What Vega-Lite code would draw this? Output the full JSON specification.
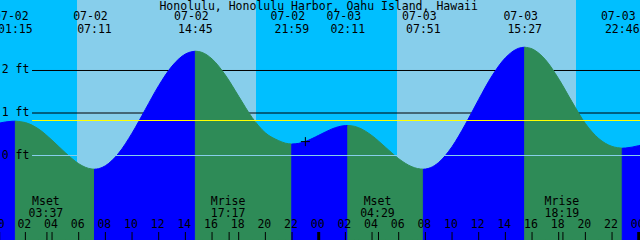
{
  "$schema": "https://vega.github.io/schema/vega-lite/v6.json",
  "width": 640,
  "height": 240,
  "autosize": {"type": "none"},
  "padding": 0,
  "background": "#00BFFF",
  "config": {"view": {"stroke": null}, "text": {"font": "DejaVu Sans Mono", "fontSize": 11.5, "color": "#000000"}},
  "datasets": {
    "sky": [
      {"start": -1, "end": 5.873, "kind": "night"},
      {"start": 5.873, "end": 19.3, "kind": "day"},
      {"start": 19.3, "end": 29.873, "kind": "night"},
      {"start": 29.873, "end": 43.3, "kind": "day"},
      {"start": 43.3, "end": 49, "kind": "night"}
    ],
    "tide": [
      {"h": 0, "v": 0.76, "seg": 1, "dir": "rising"},
      {"h": 0.5, "v": 0.789, "seg": 1, "dir": "rising"},
      {"h": 1, "v": 0.805, "seg": 1, "dir": "rising"},
      {"h": 1.25, "v": 0.807, "seg": 1, "dir": "rising"},
      {"h": 1.25, "v": 0.807, "seg": 2, "dir": "falling"},
      {"h": 1.75, "v": 0.79, "seg": 2, "dir": "falling"},
      {"h": 2, "v": 0.774, "seg": 2, "dir": "falling"},
      {"h": 3, "v": 0.622, "seg": 2, "dir": "falling"},
      {"h": 4, "v": 0.36, "seg": 2, "dir": "falling"},
      {"h": 5, "v": 0.065, "seg": 2, "dir": "falling"},
      {"h": 6, "v": -0.193, "seg": 2, "dir": "falling"},
      {"h": 6.5, "v": -0.277, "seg": 2, "dir": "falling"},
      {"h": 7, "v": -0.319, "seg": 2, "dir": "falling"},
      {"h": 7.183, "v": -0.322, "seg": 2, "dir": "falling"},
      {"h": 7.183, "v": -0.322, "seg": 3, "dir": "rising"},
      {"h": 7.5, "v": -0.31, "seg": 3, "dir": "rising"},
      {"h": 8, "v": -0.242, "seg": 3, "dir": "rising"},
      {"h": 9, "v": 0.056, "seg": 3, "dir": "rising"},
      {"h": 10, "v": 0.526, "seg": 3, "dir": "rising"},
      {"h": 11, "v": 1.085, "seg": 3, "dir": "rising"},
      {"h": 12, "v": 1.643, "seg": 3, "dir": "rising"},
      {"h": 13, "v": 2.104, "seg": 3, "dir": "rising"},
      {"h": 14, "v": 2.387, "seg": 3, "dir": "rising"},
      {"h": 14.25, "v": 2.423, "seg": 3, "dir": "rising"},
      {"h": 14.75, "v": 2.454, "seg": 3, "dir": "rising"},
      {"h": 14.75, "v": 2.454, "seg": 4, "dir": "falling"},
      {"h": 15, "v": 2.446, "seg": 4, "dir": "falling"},
      {"h": 15.25, "v": 2.425, "seg": 4, "dir": "falling"},
      {"h": 16, "v": 2.272, "seg": 4, "dir": "falling"},
      {"h": 17, "v": 1.892, "seg": 4, "dir": "falling"},
      {"h": 18, "v": 1.393, "seg": 4, "dir": "falling"},
      {"h": 19, "v": 0.896, "seg": 4, "dir": "falling"},
      {"h": 20, "v": 0.533, "seg": 4, "dir": "falling"},
      {"h": 21, "v": 0.35, "seg": 4, "dir": "falling"},
      {"h": 21.5, "v": 0.29, "seg": 4, "dir": "falling"},
      {"h": 21.983, "v": 0.27, "seg": 4, "dir": "falling"},
      {"h": 21.983, "v": 0.27, "seg": 5, "dir": "rising"},
      {"h": 22.5, "v": 0.286, "seg": 5, "dir": "rising"},
      {"h": 23, "v": 0.33, "seg": 5, "dir": "rising"},
      {"h": 24, "v": 0.475, "seg": 5, "dir": "rising"},
      {"h": 25, "v": 0.626, "seg": 5, "dir": "rising"},
      {"h": 25.5, "v": 0.678, "seg": 5, "dir": "rising"},
      {"h": 26, "v": 0.704, "seg": 5, "dir": "rising"},
      {"h": 26.183, "v": 0.706, "seg": 5, "dir": "rising"},
      {"h": 26.183, "v": 0.706, "seg": 6, "dir": "falling"},
      {"h": 26.7, "v": 0.685, "seg": 6, "dir": "falling"},
      {"h": 27, "v": 0.654, "seg": 6, "dir": "falling"},
      {"h": 28, "v": 0.466, "seg": 6, "dir": "falling"},
      {"h": 29, "v": 0.197, "seg": 6, "dir": "falling"},
      {"h": 30, "v": -0.075, "seg": 6, "dir": "falling"},
      {"h": 31, "v": -0.266, "seg": 6, "dir": "falling"},
      {"h": 31.4, "v": -0.306, "seg": 6, "dir": "falling"},
      {"h": 31.85, "v": -0.322, "seg": 6, "dir": "falling"},
      {"h": 31.85, "v": -0.322, "seg": 7, "dir": "rising"},
      {"h": 32, "v": -0.319, "seg": 7, "dir": "rising"},
      {"h": 32.4, "v": -0.285, "seg": 7, "dir": "rising"},
      {"h": 33, "v": -0.163, "seg": 7, "dir": "rising"},
      {"h": 34, "v": 0.208, "seg": 7, "dir": "rising"},
      {"h": 35, "v": 0.733, "seg": 7, "dir": "rising"},
      {"h": 36, "v": 1.32, "seg": 7, "dir": "rising"},
      {"h": 37, "v": 1.874, "seg": 7, "dir": "rising"},
      {"h": 38, "v": 2.298, "seg": 7, "dir": "rising"},
      {"h": 39, "v": 2.524, "seg": 7, "dir": "rising"},
      {"h": 39.45, "v": 2.548, "seg": 7, "dir": "rising"},
      {"h": 39.45, "v": 2.548, "seg": 8, "dir": "falling"},
      {"h": 40, "v": 2.509, "seg": 8, "dir": "falling"},
      {"h": 41, "v": 2.256, "seg": 8, "dir": "falling"},
      {"h": 42, "v": 1.803, "seg": 8, "dir": "falling"},
      {"h": 43, "v": 1.263, "seg": 8, "dir": "falling"},
      {"h": 44, "v": 0.753, "seg": 8, "dir": "falling"},
      {"h": 45, "v": 0.4, "seg": 8, "dir": "falling"},
      {"h": 46, "v": 0.214, "seg": 8, "dir": "falling"},
      {"h": 46.4, "v": 0.185, "seg": 8, "dir": "falling"},
      {"h": 46.767, "v": 0.172, "seg": 8, "dir": "falling"},
      {"h": 46.767, "v": 0.172, "seg": 9, "dir": "rising"},
      {"h": 47, "v": 0.176, "seg": 9, "dir": "rising"},
      {"h": 47.5, "v": 0.197, "seg": 9, "dir": "rising"},
      {"h": 48, "v": 0.232, "seg": 9, "dir": "rising"},
      {"h": 48.2, "v": 0.245, "seg": 9, "dir": "rising"}
    ],
    "events": [
      {"h": 1.25, "d": "07-02", "t": "01:15"},
      {"h": 7.183, "d": "07-02", "t": "07:11"},
      {"h": 14.75, "d": "07-02", "t": "14:45"},
      {"h": 21.983, "d": "07-02", "t": "21:59"},
      {"h": 26.183, "d": "07-03", "t": "02:11"},
      {"h": 31.85, "d": "07-03", "t": "07:51"},
      {"h": 39.45, "d": "07-03", "t": "15:27"},
      {"h": 46.767, "d": "07-03", "t": "22:46"}
    ],
    "hours": [
      {"h": 0, "l": "00"}, {"h": 2, "l": "02"}, {"h": 4, "l": "04"}, {"h": 6, "l": "06"},
      {"h": 8, "l": "08"}, {"h": 10, "l": "10"}, {"h": 12, "l": "12"}, {"h": 14, "l": "14"},
      {"h": 16, "l": "16"}, {"h": 18, "l": "18"}, {"h": 20, "l": "20"}, {"h": 22, "l": "22"},
      {"h": 24, "l": "00"}, {"h": 26, "l": "02"}, {"h": 28, "l": "04"}, {"h": 30, "l": "06"},
      {"h": 32, "l": "08"}, {"h": 34, "l": "10"}, {"h": 36, "l": "12"}, {"h": 38, "l": "14"},
      {"h": 40, "l": "16"}, {"h": 42, "l": "18"}, {"h": 44, "l": "20"}, {"h": 46, "l": "22"},
      {"h": 48, "l": "00"}
    ],
    "moon": [
      {"h": 3.617, "a": "Mset", "b": "03:37"},
      {"h": 17.283, "a": "Mrise", "b": "17:17"},
      {"h": 28.483, "a": "Mset", "b": "04:29"},
      {"h": 42.317, "a": "Mrise", "b": "18:19"}
    ],
    "ticks": [
      {"h": 2}, {"h": 4}, {"h": 6}, {"h": 8}, {"h": 10}, {"h": 12}, {"h": 14}, {"h": 16},
      {"h": 18}, {"h": 20}, {"h": 22}, {"h": 26}, {"h": 28}, {"h": 30}, {"h": 32}, {"h": 34},
      {"h": 36}, {"h": 38}, {"h": 40}, {"h": 42}, {"h": 44}, {"h": 46},
      {"h": 3.617}, {"h": 17.283}, {"h": 28.483}, {"h": 42.317}
    ],
    "midnights": [{"h": 0}, {"h": 24}, {"h": 48}],
    "levels": [
      {"v": 2, "l": "2 ft"}, {"v": 1, "l": "1 ft"}, {"v": 0, "l": "0 ft"}
    ],
    "now": [{"h": 23.0, "v": 0.327}]
  },
  "layer": [
    {
      "data": {"name": "sky"},
      "mark": {"type": "rect"},
      "encoding": {
        "x": {"field": "start", "type": "quantitative", "scale": {"domain": [0.0975, 48.0975], "nice": false, "zero": false}, "axis": null},
        "x2": {"field": "end"},
        "color": {"field": "kind", "type": "nominal", "scale": {"domain": ["day", "night", "rising", "falling"], "range": ["#87CEEB", "#00BFFF", "#0000FF", "#2E8B57"]}, "legend": null}
      }
    },
    {
      "data": {"name": "levels"},
      "transform": [{"filter": "datum.v > 0"}],
      "mark": {"type": "rule", "color": "#000000", "strokeWidth": 1},
      "encoding": {
        "y": {"field": "v", "type": "quantitative", "scale": {"domain": [-1.9882, 3.6588], "nice": false, "zero": false}, "axis": null},
        "x": {"datum": 2.5, "type": "quantitative", "scale": {"domain": [0.0975, 48.0975], "nice": false, "zero": false}, "axis": null},
        "x2": {"datum": 48.1}
      }
    },
    {
      "data": {"name": "tide"},
      "mark": {"type": "area", "interpolate": "monotone", "strokeWidth": 1, "opacity": 1},
      "encoding": {
        "x": {"field": "h", "type": "quantitative", "scale": {"domain": [0.0975, 48.0975], "nice": false, "zero": false}, "axis": null},
        "y": {"field": "v", "type": "quantitative", "stack": null, "scale": {"domain": [-1.9882, 3.6588], "nice": false, "zero": false}, "axis": null},
        "y2": {"datum": -1.9882},
        "color": {"field": "dir", "type": "nominal", "scale": {"domain": ["day", "night", "rising", "falling"], "range": ["#87CEEB", "#00BFFF", "#0000FF", "#2E8B57"]}, "legend": null},
        "stroke": {"field": "dir", "type": "nominal", "scale": {"domain": ["rising", "falling"], "range": ["#0000FF", "#2E8B57"]}, "legend": null},
        "detail": {"field": "seg", "type": "nominal"}
      }
    },
    {
      "data": {"values": [{"v": 0}]},
      "mark": {"type": "rule", "color": "#87CEEB", "strokeWidth": 1},
      "encoding": {
        "y": {"field": "v", "type": "quantitative", "scale": {"domain": [-1.9882, 3.6588], "nice": false, "zero": false}, "axis": null},
        "x": {"datum": 2.5, "type": "quantitative", "scale": {"domain": [0.0975, 48.0975], "nice": false, "zero": false}, "axis": null},
        "x2": {"datum": 48.1}
      }
    },
    {
      "data": {"values": [{"v": 0.8235}]},
      "mark": {"type": "rule", "color": "#FFFF00", "strokeWidth": 1},
      "encoding": {
        "y": {"field": "v", "type": "quantitative", "scale": {"domain": [-1.9882, 3.6588], "nice": false, "zero": false}, "axis": null},
        "x": {"datum": 2.5, "type": "quantitative", "scale": {"domain": [0.0975, 48.0975], "nice": false, "zero": false}, "axis": null},
        "x2": {"datum": 48.1}
      }
    },
    {
      "data": {"name": "levels"},
      "mark": {"type": "text", "align": "left", "baseline": "middle", "dy": 0},
      "encoding": {
        "x": {"datum": 0.225, "type": "quantitative", "scale": {"domain": [0.0975, 48.0975], "nice": false, "zero": false}, "axis": null},
        "y": {"field": "v", "type": "quantitative", "scale": {"domain": [-1.9882, 3.6588], "nice": false, "zero": false}, "axis": null},
        "text": {"field": "l"}
      }
    },
    {
      "data": {"values": [{"h": 24, "v": 3.518, "s": "Honolulu, Honolulu Harbor, Oahu Island, Hawaii"}]},
      "mark": {"type": "text", "align": "center", "baseline": "middle", "dy": 1.5},
      "encoding": {
        "x": {"field": "h", "type": "quantitative", "scale": {"domain": [0.0975, 48.0975], "nice": false, "zero": false}, "axis": null},
        "y": {"field": "v", "type": "quantitative", "scale": {"domain": [-1.9882, 3.6588], "nice": false, "zero": false}, "axis": null},
        "text": {"field": "s"}
      }
    },
    {
      "data": {"name": "events"},
      "mark": {"type": "text", "align": "center", "baseline": "middle", "dx": -4, "dy": 0.5},
      "encoding": {
        "x": {"field": "h", "type": "quantitative", "scale": {"domain": [0.0975, 48.0975], "nice": false, "zero": false}, "axis": null},
        "y": {"datum": 3.259, "type": "quantitative", "scale": {"domain": [-1.9882, 3.6588], "nice": false, "zero": false}, "axis": null},
        "text": {"field": "d"}
      }
    },
    {
      "data": {"name": "events"},
      "mark": {"type": "text", "align": "center", "baseline": "middle", "dy": 0.5},
      "encoding": {
        "x": {"field": "h", "type": "quantitative", "scale": {"domain": [0.0975, 48.0975], "nice": false, "zero": false}, "axis": null},
        "y": {"datum": 2.965, "type": "quantitative", "scale": {"domain": [-1.9882, 3.6588], "nice": false, "zero": false}, "axis": null},
        "text": {"field": "t"}
      }
    },
    {
      "data": {"name": "hours"},
      "mark": {"type": "text", "align": "center", "baseline": "middle", "dx": -1},
      "encoding": {
        "x": {"field": "h", "type": "quantitative", "scale": {"domain": [0.0975, 48.0975], "nice": false, "zero": false}, "axis": null},
        "y": {"datum": -1.628, "type": "quantitative", "scale": {"domain": [-1.9882, 3.6588], "nice": false, "zero": false}, "axis": null},
        "text": {"field": "l"}
      }
    },
    {
      "data": {"name": "moon"},
      "mark": {"type": "text", "align": "center", "baseline": "middle", "dx": -1},
      "encoding": {
        "x": {"field": "h", "type": "quantitative", "scale": {"domain": [0.0975, 48.0975], "nice": false, "zero": false}, "axis": null},
        "y": {"datum": -1.09, "type": "quantitative", "scale": {"domain": [-1.9882, 3.6588], "nice": false, "zero": false}, "axis": null},
        "text": {"field": "a"}
      }
    },
    {
      "data": {"name": "moon"},
      "mark": {"type": "text", "align": "center", "baseline": "middle", "dx": -1},
      "encoding": {
        "x": {"field": "h", "type": "quantitative", "scale": {"domain": [0.0975, 48.0975], "nice": false, "zero": false}, "axis": null},
        "y": {"datum": -1.372, "type": "quantitative", "scale": {"domain": [-1.9882, 3.6588], "nice": false, "zero": false}, "axis": null},
        "text": {"field": "b"}
      }
    },
    {
      "data": {"name": "ticks"},
      "mark": {"type": "rule", "color": "#000000", "strokeWidth": 1},
      "encoding": {
        "x": {"field": "h", "type": "quantitative", "scale": {"domain": [0.0975, 48.0975], "nice": false, "zero": false}, "axis": null},
        "y": {"datum": -1.8, "type": "quantitative", "scale": {"domain": [-1.9882, 3.6588], "nice": false, "zero": false}, "axis": null},
        "y2": {"datum": -1.9882}
      }
    },
    {
      "data": {"name": "midnights"},
      "mark": {"type": "rule", "color": "#000000", "strokeWidth": 3},
      "encoding": {
        "x": {"field": "h", "type": "quantitative", "scale": {"domain": [0.0975, 48.0975], "nice": false, "zero": false}, "axis": null},
        "y": {"datum": -1.8, "type": "quantitative", "scale": {"domain": [-1.9882, 3.6588], "nice": false, "zero": false}, "axis": null},
        "y2": {"datum": -1.9882}
      }
    },
    {
      "data": {"name": "now"},
      "mark": {"type": "point", "shape": "M-1,0H1M0,-1V1", "size": 81, "filled": false, "color": "#000000", "strokeWidth": 1, "opacity": 1},
      "encoding": {
        "x": {"field": "h", "type": "quantitative", "scale": {"domain": [0.0975, 48.0975], "nice": false, "zero": false}, "axis": null},
        "y": {"field": "v", "type": "quantitative", "scale": {"domain": [-1.9882, 3.6588], "nice": false, "zero": false}, "axis": null}
      }
    }
  ]
}
